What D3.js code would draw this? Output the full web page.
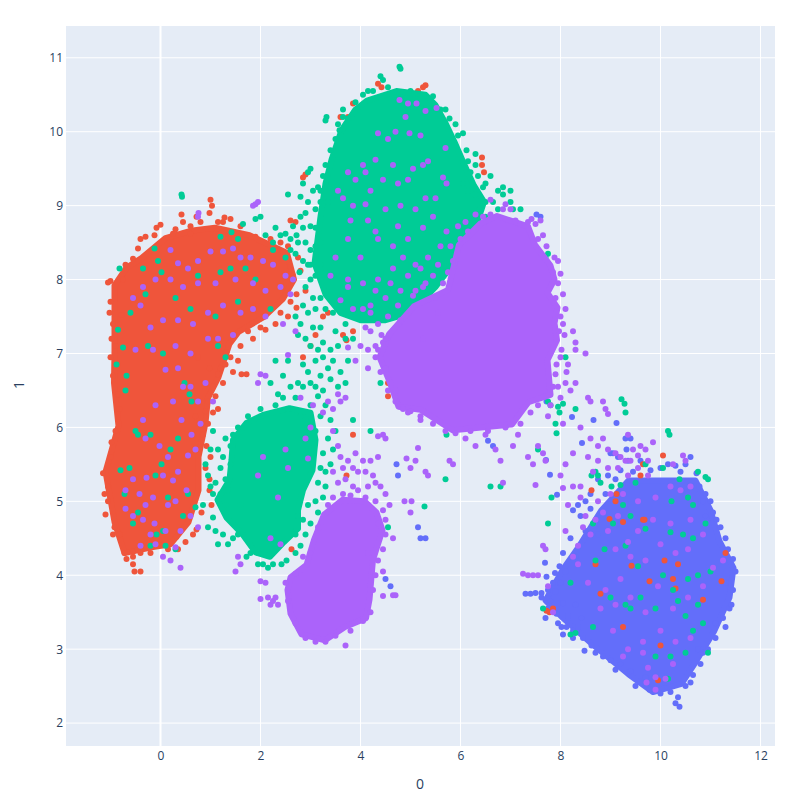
<!DOCTYPE html>
<html>
<head>
<meta charset="utf-8">
<script src="https://d3js.org/d3.v7.min.js"></script>
<style>
  body { margin: 0; background: #fff; }
  text { font-family: "Open Sans", sans-serif; fill: #2a3f5f; }
</style>
</head>
<body>
<div id="chart"></div>
<script>
var xTicks = [0, 2, 4, 6, 8, 10, 12];
var yTicks = [2, 3, 4, 5, 6, 7, 8, 9, 10, 11];
var xTitle = "0";
var yTitle = "1";

// dense parts of each cluster, outlines
var blueCore = [[9.36,5.28],[9.99,5.28],[10.7,5.28],[11,4.88],[11.18,4.46],[11.46,4.1],[11.38,3.7],[11.07,3.24],[10.68,2.8],[10.42,2.53],[9.85,2.42],[9.36,2.66],[8.63,3.07],[8.05,3.42],[7.7,3.66],[8.05,4.08],[8.38,4.4],[8.82,4.88]];
var redCore = [[-0.92,7.92],[-0.68,8.16],[-0.38,8.29],[0.1,8.56],[0.6,8.66],[1.09,8.7],[1.78,8.6],[2.53,8.36],[2.67,8],[2.45,7.74],[2.06,7.49],[1.56,7.29],[1.38,7.13],[1.16,6.68],[0.95,6.4],[0.9,6.06],[0.76,5.6],[0.76,5.15],[0.56,4.72],[0.2,4.42],[-0.15,4.38],[-0.72,4.3],[-0.92,4.72],[-1.1,5.4],[-0.84,6.02],[-0.93,6.6],[-0.92,7.05]];
var greenUpperCore = [[4.13,10.42],[4.72,10.55],[5.3,10.5],[5.5,10.36],[5.69,10.13],[5.88,9.86],[6.08,9.55],[6.27,9.27],[6.47,9.05],[6.3,8.7],[5.95,8.3],[5.5,7.9],[5,7.55],[4.5,7.45],[4,7.45],[3.6,7.55],[3.3,7.8],[3.08,8.22],[3.2,8.85],[3.3,9.3],[3.42,9.62],[3.62,10.02],[3.9,10.3]];
var greenLowerCore = [[1.45,5.83],[1.72,6.06],[2.05,6.17],[2.58,6.26],[3,6.2],[3.1,5.83],[3.04,5.42],[2.85,5.15],[2.75,4.88],[2.75,4.63],[2.47,4.45],[2.19,4.25],[1.9,4.31],[1.62,4.57],[1.32,4.78],[1.14,5.02],[1.38,5.29],[1.42,5.56]];
var purpleUpperCore = [[6.73,8.86],[7.35,8.72],[7.49,8.47],[7.8,8.19],[7.88,8],[7.74,7.82],[7.94,7.62],[7.88,7.41],[7.93,7.18],[7.74,6.91],[7.8,6.44],[7.36,6.34],[7.03,6.04],[5.85,5.96],[5.2,6.24],[4.76,6.28],[4.58,6.62],[4.38,6.95],[4.57,7.26],[5.07,7.64],[5.75,7.86],[5.97,8.47],[6.4,8.76]];
var purpleLowerCore = [[3.64,5.02],[4.08,5],[4.32,4.85],[4.44,4.61],[4.25,4.21],[4.18,3.67],[4.11,3.42],[3.69,3.3],[3.29,3.12],[2.82,3.2],[2.6,3.48],[2.54,3.8],[2.6,3.97],[2.92,4.14],[3.07,4.48],[3.27,4.82]];

var bluePoints = [[7.3,3.75],[7.4,3.75],[7.5,3.76],[7.62,3.76],[7.75,3.8],[7.8,3.65],[7.85,3.55],[7.92,3.48],[7.7,3.42],[7.62,3.7],[7.95,3.35],[8.02,3.3],[8.12,3.3],[8.25,3.25],[8.35,3.3],[8.45,3.15],[8.62,3.05],[8.7,2.95],[8.85,2.9],[9,2.85],[9.2,2.8],[9.4,2.7],[9.6,2.55],[9.78,2.45],[10,2.4],[10.2,2.42],[10.35,2.35],[10.3,2.27],[10.38,2.22],[10.5,2.5],[10.65,2.65],[10.8,2.8],[10.95,3],[11.1,3.15],[11.25,3.42],[11.38,3.55],[11.45,3.8],[11.5,4.05],[11.45,4.22],[11.3,4.5],[11.2,4.65],[11.05,4.85],[11,5],[10.78,5.2],[10.5,5.5],[10.6,5.6],[10.3,5.48],[10.15,5.5],[10,5.45],[9.8,5.42],[9.6,5.55],[9.35,5.55],[9.32,5.7],[9,5.65],[9.15,5.6],[9.12,6.06],[9.3,5.85],[9.4,5.85],[8.66,6.1],[8.23,6.14],[8.43,5.79],[9.05,5.65],[7.71,5.56],[7.79,5.36],[7.93,5.09],[8.25,4.88],[7.69,4.17],[7.89,4.03],[8.6,5.1],[8.4,4.8],[8.2,4.5],[8.05,4.3],[7.98,4.12],[7.85,3.9],[7.72,3.98],[7.9,3.78],[8.05,3.62],[8.15,3.45],[8.3,3.6],[8.42,3.42],[10.75,3],[11.1,3.35],[11.3,3.9],[11.3,4.3],[10.9,4.8],[9.1,5.3],[8.9,5.1],[9.7,2.62],[10.1,2.55],[8.3,4.25],[8.5,4.6],[10.72,5.38],[10.9,5.1],[8,3.9],[8.1,4.05],[6.55,5.82],[6.65,5.75],[7.72,6.35],[7.85,7.1],[7.8,8.0],[7.78,8.15],[7.6,8.85],[7.52,8.88],[4.72,5.5],[4.75,5.35],[5.15,4.65],[5.2,4.5],[5.3,4.5],[4.5,3.95],[4.6,3.85],
  [8.5,5.0],[8.35,4.95],[8.75,5.3],[8.95,5.35],[9.2,5.42],[9.45,5.4],[10.4,5.4],[10.85,5.0],[11.12,4.75],[11.35,4.35],[11.42,3.6],[11.3,3.3],[10.85,2.95],[10.6,2.55],[8.25,3.15],[8.05,3.2],[7.75,3.55],[8.48,2.98],[9.1,2.72],[9.5,2.5],[8.75,4.55],[8.6,4.9]];

var redPoints = [[-1,7.98],[-1.05,7.96],[0.42,8.88],[0.45,8.78],[1,9.08],[1.03,9],[0.98,8.9],[1.15,8.78],[1.28,8.84],[1.4,8.82],[0.72,8.85],[0.8,8.78],[0.6,8.72],[0.3,8.68],[-0.08,8.7],[0,8.74],[-0.3,8.58],[-0.4,8.55],[1.9,8.58],[2.35,8.4],[2.55,8.45],[2.6,8.8],[2.7,8.78],[-0.75,8],[-1,7.7],[-0.95,7.4],[-0.98,7.2],[-0.9,7.1],[-1,6.95],[-0.95,6.7],[-0.85,6.45],[-0.82,6.25],[-0.9,5.95],[-1.15,5.38],[-1.05,5.2],[-1.12,5.1],[-1.1,4.82],[-0.92,4.65],[-0.82,4.55],[-0.72,4.3],[-0.55,4.15],[-0.52,4.05],[-0.55,4.25],[-0.4,4.3],[0.32,4.52],[0.35,4.35],[0.72,4.62],[1.02,4.95],[0.98,5.15],[0.9,5.45],[1,5.6],[0.85,5.9],[0.95,6.05],[1.05,6.2],[0.95,6.35],[1.05,6.55],[1.15,6.72],[1.25,6.6],[1.2,6.8],[0.75,6.95],[0.98,6.8],[0.88,6.55],[1.32,7.02],[1.6,7.1],[1.55,6.9],[1.62,6.72],[1.72,6.72],[2,7.35],[2.1,7.32],[2.4,7.55],[2.6,7.7],[2.72,7.8],[2.65,8.05],[2.9,7.85],[3.2,8.1],[3.25,7.5],[3.35,7.55],[2.85,6.95],[3.1,7.25],[3,7.1],[1.5,5.3],[1.55,4.7],[1.6,4.65],[2.1,4.82],[3.75,10.2],[3.6,10.2],[3.85,10.38],[4.35,10.65],[4.42,10.6],[4.68,10.52],[5.15,10.55],[5.25,10.6],[5.3,10.63],[5.05,10.5],[6.43,9.65],[6.43,9.55],[6.47,9.45],[5.9,9.55],[3.7,9.95],[3.75,9.9],[2.9,9.42],[2.85,9.38],[3.65,7.25],[3.72,7.18],[3.85,7.3],[4.55,6.6],[5.92,8.3],[4.55,6.42],[3.85,5.9],[3.72,5.35],[2.62,4.35],[3.45,3.95],[7.85,3.55],[7.78,3.5],[7.72,3.52],[-0.4,4.05],[9.65,5.5],[9.6,5.35],[9.12,5.1],[9.25,4.72],[9.65,4.75],[9.68,4.75],[10.08,4.2],[9.78,3.92],[9.42,4.13],[10.25,3.95],[10.3,3.82],[10.85,3.67],[10.35,4.15],[11.22,3.92],[11.3,4.3],[9.25,3.3],[10,3.05],[9.95,2.58],[8.8,3.75],[8.7,4.15],[8.98,4.76],[9.1,5],[8.62,5.15],[10.05,5.62],
  [-0.7,8.2],[-0.55,8.28],[-0.45,8.42],[-0.12,8.6],[0.25,8.62],[0.6,8.62],[1.25,8.78],[1.6,8.72],[2.2,8.55],[2.4,8.5],[2.75,8.3],[2.8,8.12],[2.72,7.62],[2.55,7.5],[2.3,7.4],[1.85,7.2],[1.75,7.3],[1.4,6.95],[1.45,6.75],[1.3,6.85],[1.1,6.42],[1.15,6.25],[0.7,6.15],[0.9,6.22],[0.92,5.75],[0.98,5.3],[0.82,4.85],[0.65,4.55],[0.5,4.45],[0.15,4.35],[-0.2,4.3],[-1,5.6],[-0.98,5.8],[-0.85,6.85],[-0.78,7.52],[-1.02,7.55],[-1.05,5.0],[-0.95,4.55],[-0.68,4.22],[-0.55,4.32]];

var greenPoints = [[0.42,9.15],[0.43,9.12],[1.65,8.75],[1.42,8.64],[1.2,8.58],[1.55,8.55],[1.9,8.82],[2,8.85],[-0.12,8.42],[-0.05,8.25],[-0.82,8.15],[-0.35,8.15],[0.02,8.1],[0.75,8.05],[1.2,8.1],[1.7,8.15],[2.25,8.5],[2.4,8.6],[2.5,8.62],[2.6,8.55],[2.72,8.6],[2.85,8.7],[2.5,8.3],[2.25,8.4],[2.1,8.6],[2.3,8.7],[2.9,8.5],[2.95,8.2],[3,8],[2.7,8.35],[2.78,8.1],[2.9,7.9],[3,8.72],[3.1,8.95],[3.05,9.2],[3.15,9.25],[2.85,9.3],[2.8,9.12],[2.55,9.15],[2.9,8.9],[3.3,10.15],[3.32,10.2],[3.65,10.2],[4.15,10.55],[4.4,10.75],[4.45,10.7],[4.78,10.88],[4.8,10.85],[3.65,10.3],[3.55,10.1],[5.7,10.3],[5.9,10.1],[6.05,9.98],[6.12,9.75],[6.3,9.7],[6.3,9.55],[6.6,9.4],[6.75,9.2],[6.85,9.15],[6.45,9.25],[7,9.05],[3,9.5],[2.95,9.45],[3.25,9.4],[3.35,9.05],[3.2,8.5],[3.2,8.2],[1.4,8.15],[1.9,8.0],[-0.6,7.55],[-0.3,7.8],[0.3,7.75],[0.6,7.6],[1.1,7.5],[1.55,7.7],[2.2,7.6],[-0.85,7.32],[-0.75,7.08],[-0.88,6.85],[-0.68,6.7],[-0.25,7.1],[0.05,7.0],[0.48,6.6],[0.62,6.35],[0.58,6.45],[1.15,7.1],[1.3,6.95],[-0.7,6.5],[-0.45,5.9],[-0.5,5.95],[-0.2,5.9],[-0.62,5.45],[-0.8,5.42],[-0.72,5.1],[-0.45,4.85],[-0.1,5.35],[0.02,5.5],[0.2,5.7],[0.35,5.85],[0.15,5.05],[0.55,5.1],[0.7,4.92],[0.45,4.8],[0.05,4.6],[-0.55,4.7],[-0.2,4.4],[0.1,4.4],[0.3,4.35],[-0.08,4.55],[0.85,4.95],[0.9,5.5],[1,5.2],[1.2,5.45],[1.25,5.6],[1.3,5.85],[1.05,5.95],[1.0,5.7],[1.1,5.25],[1.3,4.95],[1.05,4.78],[0.95,4.65],[1.15,4.42],[1.35,4.42],[1.45,4.5],[1.55,4.55],[1.8,4.3],[1.72,4.25],[1.95,4.3],[2.05,4.15],[2.42,4.15],[2.52,4.2],[2.7,4.3],[2.8,4.4],[2.9,4.55],[3.0,4.7],[2.75,4.8],[3.1,5.0],[3.25,5.05],[3.15,5.25],[3.3,5.4],[3.25,5.65],[3.35,5.85],[3.1,5.95],[3.2,6.15],[3.0,6.3],[3.15,6.42],[2.7,6.4],[2.85,6.55],[3.0,6.6],[3.2,6.7],[3.35,6.8],[3.1,6.9],[3.4,7.05],[3.0,7.1],[2.75,7.25],[2.45,6.7],[2.3,6.9],[2.55,6.9],[2.2,6.6],[2.35,6.45],[2.8,6.15],[3.55,6.55],[3.7,6.6],[3.7,7.4],[3.5,7.3],[3.2,7.35],[3.85,6.1],[4.2,5.95],[4.55,4.65],[5.28,4.93],[5.7,5.3],[5.72,5.9],[6.6,5.2],[7.95,6.28],[7.98,6.2],[8.1,6.95],[8.05,6.32],[7.9,6.05],[7.92,5.92],[9.22,6.38],[9.28,6.32],[9.3,6.2],[10.15,5.95],[10.18,5.9],[8.7,5.4],[8.75,5.35],[8.62,5.35],[8.8,5.25],[9.02,5.2],[9.2,5.22],[9.5,5.25],[9.7,5.5],[10.55,5.05],[10.9,5.33],[10.95,5.3],[10.75,5.4],[10.38,5.3],[10.05,5.45],[10.22,5.0],[10.65,4.95],[10.9,4.7],[8.65,4.7],[9.05,4.7],[9.4,4.8],[9.7,4.63],[10.2,4.58],[10.45,4.55],[10.65,4.5],[9.3,4.4],[9.55,4.12],[10.05,4.0],[10.55,3.95],[10.75,4.0],[11,4.05],[9.6,3.7],[9.9,3.55],[10.25,3.8],[10.5,3.45],[10.35,3.65],[9.3,3.6],[9,3.7],[8.65,3.3],[8.2,3.2],[8.3,3.22],[7.65,3.55],[7.75,4.7],[8.2,3.9],[9.4,3.55],[10.95,2.95],[10.15,2.6],[9.9,2.9],[10.2,2.9],[10.5,2.95],[10.65,3.25],[10.85,3.35],[10.75,3.6],[7.82,5.05],[8.7,4.2],[8.88,4.35],[9.25,4.95],[7.7,8.3],[7.75,8.35],[7.75,6.35],[7.8,6.3],[8.3,6.25],[7.55,5.7],[6.8,5.2],[4.6,6.9],[4.4,6.6],[1.6,4.95],[1.35,5.15],
  [2.6,8.4],[2.75,8.5],[2.65,8.72],[2.8,8.85],[2.95,9.05],[3,8.4],[2.85,8.25],[3.05,7.75],[2.85,7.65],[2.7,7.5],[2.95,7.55],[3.1,7.6],[3.2,7.75],[2.8,7.4],[2.9,7.2],[3.05,7.35],[3.25,7.15],[3.15,7.05],[2.85,6.85],[2.95,6.75],[3.25,6.95],[3.4,6.65],[3.45,6.9],[3.25,6.5],[3.1,6.55],[2.75,6.6],[2.6,6.55],[2.45,6.4],[2.55,6.25],[3.3,6.3],[3.4,6.1],[3.5,5.95],[3.45,5.7],[3.4,5.5],[3.3,5.2],[3.2,5.45],[3.15,4.85],[2.95,4.95],[2.85,4.75],[3.55,7.1],[3.75,6.9],[3.6,6.75],[3.7,7.2],[3.85,7.2],[3.3,7.6],[3.45,7.55],[3.3,8.1],[3.1,8.05],[3,8.2],[3.1,8.45],[3.1,8.7],[3.2,9.05],[3.2,9.2],[3.3,9.55],[3.4,9.75],[3.5,9.9],[3.58,10.02],[3.75,10.18],[3.9,10.4],[4.05,10.5],[4.25,10.55],[4.55,10.6],[5,10.55],[5.45,10.48],[5.6,10.3],[5.78,10.18],[5.95,9.95],[6.15,9.6],[6.2,9.45],[6.35,9.4],[6.5,9.3],[6.05,9.3],[6.15,9.2],[6.3,9.15],[6.5,9.05],[6.65,9.05],[6.38,8.95],[6.5,8.85],[7,9.2],[6.85,9.25],[6.75,8.95],[7.05,8.95],[7.2,8.95],[1.1,4.6],[1.25,4.55],[1.05,5.1],[1.2,5.1],[0.95,5.35],[1.15,5.7],[1.4,5.5],[1.4,5.75],[1.55,6.0],[1.45,5.9],[1.75,6.15],[2,6.25],[2.3,6.3],[1.3,5.3],[1.95,4.15],[2.15,4.1],[2.25,4.15],[2.7,4.55]];

var purplePoints = [[1.9,9.02],[1.95,9.05],[1.85,9.0],[0.76,8.9],[0.75,8.85],[0.2,8.4],[0.35,8.22],[0.55,8.15],[0.75,8.25],[1,8.38],[1.25,8.38],[1.45,8.42],[1.6,8.3],[1.8,8.3],[2.05,8.25],[2.25,8.2],[2.5,8.05],[2.65,8],[2.6,7.8],[2.4,7.9],[2.1,7.85],[1.85,7.95],[1.5,8.0],[1.1,7.95],[0.75,7.95],[0.45,7.9],[0.2,8.0],[-0.1,8.0],[-0.35,7.9],[-0.55,7.75],[-0.4,7.65],[-0.2,7.35],[0.05,7.45],[0.35,7.45],[0.65,7.4],[0.95,7.55],[1.25,7.65],[1.6,7.55],[1.85,7.6],[2.1,7.5],[2.45,7.4],[2.7,7.3],[1.45,7.25],[1.15,7.2],[0.95,7.2],[0.6,7.0],[0.3,7.1],[-0.5,7.05],[-0.15,7.05],[0.35,6.8],[0.1,6.78],[0.45,6.55],[0.6,6.55],[0.9,6.6],[1.05,6.35],[0.75,6.35],[2.1,6.7],[2.0,6.72],[2.55,6.98],[1.95,6.6],[0.8,6.05],[0.62,5.9],[0.7,5.7],[0.55,5.62],[0.35,5.4],[0.52,5.15],[0.3,5.0],[0.15,4.95],[-0.3,4.95],[-0.12,4.7],[-0.35,4.75],[-0.55,4.8],[-0.42,5.1],[-0.7,5.15],[-0.28,5.32],[-0.15,5.05],[-0.55,5.3],[0.05,5.35],[-0.02,5.75],[-0.3,5.85],[-0.35,6.1],[-0.1,6.3],[0.25,6.35],[0.42,6.1],[0.15,5.6],[0.25,5.28],[0.6,4.8],[0.75,4.65],[0.4,4.6],[0.1,4.6],[-0.2,4.55],[-0.1,4.42],[0.3,4.38],[-0.4,4.4],[0.05,4.25],[0.2,4.2],[0.4,4.1],[-0.7,4.9],[1.55,4.25],[1.6,4.15],[1.5,4.05],[2,3.92],[2.1,3.9],[2.15,3.7],[2,3.68],[2.2,3.6],[2.25,3.65],[2.3,3.7],[2.4,4.42],[2.2,4.5],[2.35,5.05],[1.95,5.35],[2.05,5.6],[2.5,5.7],[2.55,5.45],[2.95,5.58],[2.9,5.85],[3,6.0],[3.05,6.3],[3.25,6.2],[3.35,6.35],[2.8,6.4],[3.6,6.35],[3.7,6.4],[3.55,6.45],[3.45,6.25],[3.45,5.95],[3.55,5.75],[3.75,5.55],[3.9,5.65],[4.05,5.55],[4.25,5.35],[4.4,5.2],[3.65,5.1],[3.85,5.2],[4.1,5.05],[4.3,5.0],[4.45,4.88],[4.35,4.7],[4.5,4.55],[4.15,4.3],[4.45,4.05],[4.45,3.72],[4.7,3.73],[4.65,3.73],[3.7,3.05],[3.3,3.1],[3.45,5.4],[3.65,5.45],[3.95,5.4],[4.35,5.6],[4.5,5.85],[4.45,5.9],[4.35,5.88],[2.35,3.6],[4.88,5.0],[5.0,4.85],[4.65,4.5],[5.02,5.0],[5.1,5.55],[5.15,5.72],[5.3,5.4],[5.35,5.35],[5.78,5.55],[5.85,5.5],[4.92,5.58],[5.0,5.45],[5.9,5.92],[6.1,5.85],[6.3,5.75],[6.5,5.9],[6.7,5.7],[6.8,5.55],[6.85,5.25],[7.05,5.75],[7.15,5.9],[7.35,5.6],[7.45,5.5],[7.5,5.22],[7.65,5.65],[7.7,5.55],[7.55,5.75],[7.75,6.15],[8.05,6.05],[8.0,6.4],[8.2,6.5],[8.3,6.6],[8.1,6.6],[8.15,6.85],[8.3,7.05],[8.5,7.0],[8.3,7.15],[8.25,7.3],[8.02,7.05],[8.12,6.75],[8.55,6.4],[8.85,6.35],[8.9,6.25],[8.95,6.18],[9.35,5.9],[9.1,5.65],[8.95,5.7],[8.75,5.55],[8.85,5.85],[8.65,5.4],[8.4,5.2],[8.25,5.2],[8.0,5.35],[8.1,5.5],[8.25,5.65],[8.4,6.0],[8.6,5.85],[7.65,4.4],[7.7,4.35],[7.35,4.0],[7.45,4.0],[7.25,4.02],[7.55,4.0],[7.75,3.85],[7.85,3.5],[8.5,4.8],[8.45,4.65],[8.35,4.4],[8.25,4.25],[8.1,4.6],[8.15,4.95],[8.4,5.05],[8.35,4.15],[8.6,4.55],[8.7,4.75],[8.75,5],[9,5.1],[8.85,4.85],[8.95,5.45],[9.15,5.45],[9.35,5.35],[9.55,5.45],[9.75,5.55],[9.85,5.8],[9.55,5.62],[9.6,5.75],[9.45,5.7],[9.3,5.55],[9.75,5.35],[10.25,5.5],[10.45,5.62],[10.5,5.55],[10.4,5.15],[10.6,5.2],[10.2,5.2],[9.9,5.05],[9.55,5],[9.25,5.1],[8.95,4.6],[9.15,4.8],[9.1,4.35],[9.35,4.45],[9.55,4.6],[9.85,4.75],[10.2,4.7],[10.6,4.75],[10.85,4.55],[10.55,4.35],[10.3,4.3],[10,4.42],[9.7,4.2],[9.4,4.25],[9.2,3.95],[8.9,3.8],[8.55,3.9],[8.8,3.55],[9.1,3.6],[9.4,3.7],[9.7,3.5],[9.95,3.85],[10.25,3.55],[10.55,3.7],[10.85,3.85],[11.05,4.1],[11.25,4.2],[10.6,3.15],[10.3,3.1],[10,3.25],[9.65,3.1],[9.35,3.0],[9.05,3.25],[9.25,2.9],[9.75,2.75],[10.25,2.8],[9.9,2.62],[10.1,2.6],[9.72,2.55],[9.9,2.45],[9.65,2.95],[6.6,9.08],[6.85,8.95],[7,8.95],[6.9,9.02],[7.42,8.82],[7.5,8.75],[7.6,8.8],[7.65,8.6],[7.72,8.45],[7.88,8.3],[8,8.08],[7.95,7.95],[8.05,7.8],[8.1,7.6],[8.05,7.4],[8.08,7.25],[8,6.95],[7.9,6.72],[7.95,6.55],[5.65,7.95],[5.75,8.1],[5.85,8.25],[5.6,8.45],[5.72,8.65],[5.95,8.72],[6.1,8.78],[6.3,8.88],[5.5,9.1],[5.45,8.85],[5.25,8.7],[4.95,8.55],[4.65,8.45],[4.35,8.55],[4,8.3],[3.75,8.55],[3.5,8.3],[3.4,8.05],[3.75,8],[4.05,7.95],[4.35,8.0],[4.65,8.15],[4.95,8.05],[5.2,8.15],[5.45,8.05],[4.8,7.85],[5.05,7.78],[4.5,7.75],[4.2,7.65],[3.85,7.6],[3.6,7.72],[4.1,7.35],[4.35,7.4],[4.55,7.5],[4.8,7.45],[4.15,7.05],[4.3,7.1],[4,7.1],[3.75,7.08],[4.4,6.75],[4.55,6.5],[4.7,6.35],[4.85,6.25],[5,6.22],[5.2,6.1],[4.42,7.25],[4.3,6.95],[4.15,6.8],[3.9,6.9],[4.35,9.98],[4.7,10.0],[4.98,9.98],[5.2,9.95],[4.05,9.55],[4.1,9.45],[4.55,9.9],[4.3,9.62],[4.65,9.55],[5.05,9.5],[5.35,9.6],[5.65,9.38],[5.72,9.3],[5.7,9.78],[5.52,10.32],[5.3,10.28],[5.12,10.38],[4.95,10.38],[4.78,10.43],[4.9,10.2],[3.55,9.2],[3.65,9.1],[3.85,9.0],[4.1,9.02],[4.5,8.95],[4.8,9.0],[5.1,8.95],[5.3,9.1],[4.15,8.8],[4.3,8.65],[3.8,8.8],[4.75,8.72],[3.75,7.9],[5.25,7.2],[5.55,7.55],[4.2,9.2],[4.45,9.35],[3.9,9.35],[3.75,9.45],[4.75,9.3],[4.95,9.35],[5.25,9.55],
  [3.7,5.3],[3.8,5.08],[3.95,5.15],[4.15,5.2],[4.3,5.25],[3.55,5.25],[3.6,5.6],[3.85,5.45],[4.1,5.4],[4.2,5.55],[4.5,5.1],[4.5,4.75],[4.58,4.95],[4.45,4.35],[4.35,4.2],[4.3,4],[4.25,3.8],[4.2,3.5],[4.05,3.38],[3.8,3.25],[3.5,3.18],[3.1,3.1],[2.9,3.15],[2.7,3.35],[2.55,3.65],[2.5,3.9],[2.7,4.02],[2.85,4.25],[3,4.3],[3.15,4.65],[3.35,4.95],[3.45,5.05],[5.1,7.85],[5.3,7.95],[5.55,8.2],[5.35,8.3],[5.1,8.2],[4.85,8.3],[4.6,7.95],[4.3,7.85],[4.05,7.6],[4.75,7.65],[5.25,7.9],[5.5,7.75],[4.45,7.15],[4.2,7.3],[4.2,7.55],[5.8,8.45],[6,8.55],[6.15,8.65],[6.45,8.85],[6.6,8.88],[7.1,8.8],[7.35,8.78],[7.55,8.55],[7.85,8.1],[7.95,8.25],[7.9,7.75],[8,7.5],[7.97,7.3],[7.92,6.85],[7.85,6.55],[7.8,6.3],[7.55,6.3],[7.4,6.2],[7.2,6.05],[6.9,6],[6.55,5.95],[6.2,5.95],[5.7,5.95],[5.45,6.05],[5.2,6.15],[4.95,6.2],[4.7,6.5],[4.5,6.8],[4.35,7.05],[4.5,7.2],[8.05,5.18],[8.55,5.6],[8.75,5.75],[8.6,6.35],[9.4,5.55],[9.7,5.7],[9.2,5.6]];

var width = 800, height = 800;
var plot = {left: 66, right: 775, top: 26, bottom: 746};

var svg = d3.select("#chart").append("svg")
    .attr("width", width)
    .attr("height", height);

var x = d3.scaleLinear().domain([-1.89, 12.29]).range([plot.left, plot.right]);
var y = d3.scaleLinear().domain([1.69, 11.43]).range([plot.bottom, plot.top]);

svg.append("rect")
    .attr("x", plot.left).attr("y", plot.top)
    .attr("width", plot.right - plot.left)
    .attr("height", plot.bottom - plot.top)
    .attr("fill", "#E5ECF6");

// grid
svg.append("g").selectAll("line").data(xTicks).enter().append("line")
    .attr("x1", function(d) { return x(d); })
    .attr("x2", function(d) { return x(d); })
    .attr("y1", plot.top).attr("y2", plot.bottom)
    .attr("stroke", "#fff")
    .attr("stroke-width", function(d) { return d === 0 ? 2 : 1; });
svg.append("g").selectAll("line").data(yTicks).enter().append("line")
    .attr("x1", plot.left).attr("x2", plot.right)
    .attr("y1", function(d) { return y(d); })
    .attr("y2", function(d) { return y(d); })
    .attr("stroke", "#fff");

// axes, only the labels show
var xAxis = svg.append("g")
    .attr("transform", "translate(0," + plot.bottom + ")")
    .call(d3.axisBottom(x).tickValues(xTicks).tickSize(0).tickPadding(5));
var yAxis = svg.append("g")
    .attr("transform", "translate(" + plot.left + ",0)")
    .call(d3.axisLeft(y).tickValues(yTicks).tickSize(0).tickPadding(3));
[xAxis, yAxis].forEach(function(a) {
    a.select(".domain").remove();
    a.selectAll("text").style("font-size", "12px").attr("fill", "#2a3f5f");
});

svg.append("text").attr("x", 420).attr("y", 789)
    .attr("text-anchor", "middle").style("font-size", "14px").text(xTitle);
svg.append("text")
    .attr("transform", "translate(24,385) rotate(-90)")
    .attr("text-anchor", "middle").style("font-size", "14px").text(yTitle);

var line = d3.line()
    .x(function(d) { return x(d[0]); })
    .y(function(d) { return y(d[1]); })
    .curve(d3.curveLinearClosed);

function drawSeries(cores, points, color) {
    var g = svg.append("g");
    cores.forEach(function(c) {
        g.append("path").attr("d", line(c))
            .attr("fill", color)
            .attr("stroke", color)
            .attr("stroke-width", 6)
            .attr("stroke-linejoin", "round");
    });
    g.selectAll("circle").data(points).enter().append("circle")
        .attr("cx", function(d) { return x(d[0]); })
        .attr("cy", function(d) { return y(d[1]); })
        .attr("r", 3)
        .attr("fill", color);
}

drawSeries([blueCore], bluePoints, "#636efa");
drawSeries([redCore], redPoints, "#EF553B");
drawSeries([greenUpperCore, greenLowerCore], greenPoints, "#00cc96");
drawSeries([purpleUpperCore, purpleLowerCore], purplePoints, "#ab63fa");
</script>
</body>
</html>
